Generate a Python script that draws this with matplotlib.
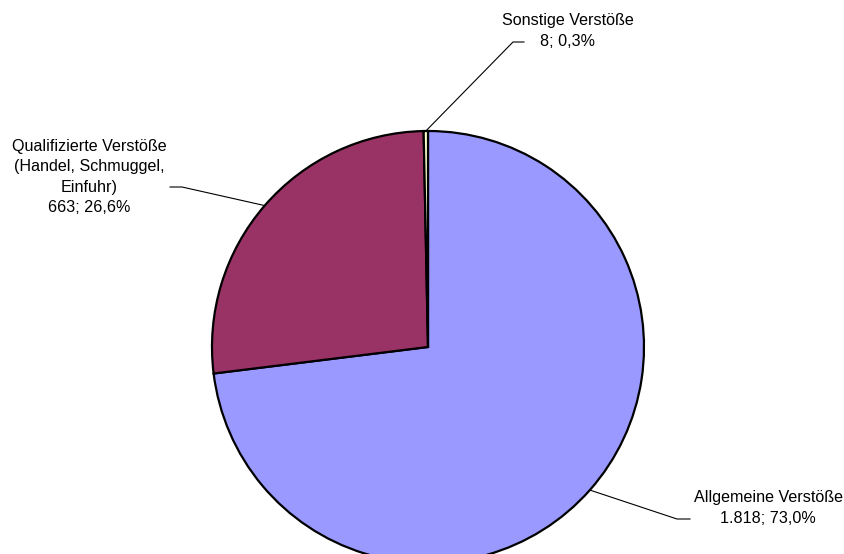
# pie chart of Verstöße categories
import numpy as np
import matplotlib
matplotlib.use("Agg")
import matplotlib.pyplot as plt

plt.rcParams['font.family'] = ['Liberation Sans', 'DejaVu Sans']

labels = ["Allgemeine Verstöße", "Qualifizierte Verstöße\n(Handel, Schmuggel,\nEinfuhr)", "Sonstige Verstöße"]
values = [1818, 663, 8]
value_text = ["1.818; 73,0%", "663; 26,6%", "8; 0,3%"]
colors = ["#9999FF", "#993366", "#FFFFCC"]

fig = plt.figure(figsize=(8.44, 5.54), dpi=100)
ax = fig.add_axes([0, 0, 1, 1])

cx, cy, r = 428, 554 - 347, 216
wedges, _ = ax.pie(values, colors=colors, startangle=90, counterclock=False,
                   center=(cx, cy), radius=r, frame=True,
                   wedgeprops=dict(edgecolor="black", linewidth=1.6))
ax.set_xlim(0, 844)
ax.set_ylim(0, 554)
ax.set_aspect("equal")
ax.axis("off")

# elbow point, end of horizontal segment, text position (pixels, y up)
layout = [
    ((677, 554 - 519), (690, 554 - 519), (768, 554 - 508)),
    ((182, 554 - 187), (170, 554 - 187), (89, 554 - 177)),
    ((513, 554 - 42), (524, 554 - 42), (568, 554 - 31)),
]

for w, lab, vt, (elbow, end, tpos) in zip(wedges, labels, value_text, layout):
    ang = np.deg2rad((w.theta1 + w.theta2) / 2)
    x0 = cx + r * np.cos(ang)
    y0 = cy + r * np.sin(ang)
    ax.plot([x0, elbow[0], end[0]], [y0, elbow[1], end[1]], color="black", lw=0.8)
    ax.text(tpos[0], tpos[1], lab + "\n" + vt, ha="center", va="center",
            fontsize=11.6, linespacing=1.47)

fig.savefig("out.png", dpi=100)
